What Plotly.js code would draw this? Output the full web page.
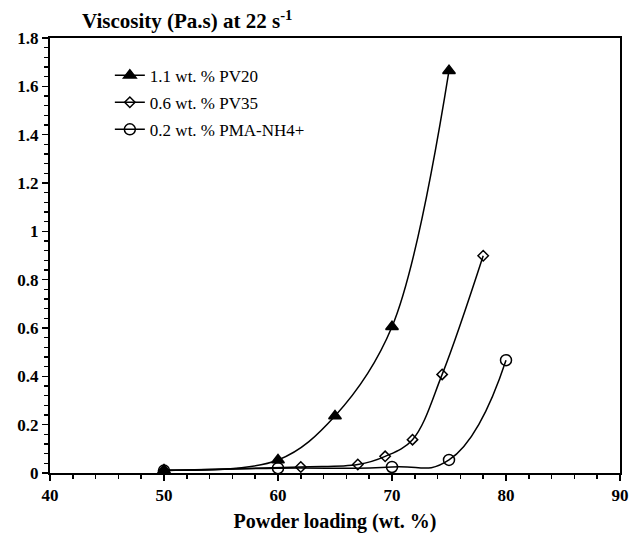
<!DOCTYPE html>
<html>
<head>
<meta charset="utf-8">
<script src="https://cdn.plot.ly/plotly-3.0.1.min.js"></script>
<style>html,body{margin:0;padding:0;background:#fff;}</style>
</head>
<body>
<div id="chart" style="width:633px;height:535px;"></div>
<script>
// Data
var seriesNames = ["1.1 wt. % PV20", "0.6 wt. % PV35", "0.2 wt. % PMA-NH4+"];
var pv20X = [50, 60, 65, 70, 75];
var pv20Y = [0.012, 0.054, 0.236, 0.605, 1.665];
var pv35X = [50, 62, 67, 69.4, 71.8, 74.4, 78];
var pv35Y = [0.01, 0.025, 0.035, 0.069, 0.138, 0.408, 0.899];
var pmaX = [50, 60, 70, 75, 80];
var pmaY = [0.01, 0.02, 0.025, 0.054, 0.467];

var xTickVals = [40, 50, 60, 70, 80, 90];
var xTickText = ["40", "50", "60", "70", "80", "90"];
var yTickVals = [0, 0.2, 0.4, 0.6, 0.8, 1, 1.2, 1.4, 1.6, 1.8];
var yTickText = ["0", "0.2", "0.4", "0.6", "0.8", "1", "1.2", "1.4", "1.6", "1.8"];

var serif = "Liberation Serif";

function trace(x, y, name, symbol, size, group, rank, smooth) {
  return {
    x: x, y: y, name: name, type: "scatter", mode: "lines+markers",
    line: {color: "#000", width: 1.5, shape: "spline", smoothing: smooth},
    marker: {symbol: symbol, size: size, color: "#000", line: {color: "#000", width: 1.5}},
    legendgroup: group, legendrank: rank
  };
}

var data = [
  trace(pmaX, pmaY, seriesNames[2], "circle-open", 11, "c", 3, 1.3),
  trace(pv35X, pv35Y, seriesNames[1], "diamond-open", 8, "b", 2, 1),
  trace(pv20X, pv20Y, seriesNames[0], "triangle-up", 11, "a", 1, 1)
];

function bold(arr) { return arr.map(function (s) { return "<b>" + s + "</b>"; }); }

var layout = {
  width: 633, height: 535,
  margin: {l: 50, r: 13, t: 38, b: 62},
  paper_bgcolor: "#fff", plot_bgcolor: "#fff",
  showlegend: true,
  legend: {x: 0.105, y: 0.955, xanchor: "left", yanchor: "top", traceorder: "grouped",
           tracegroupgap: 2, font: {family: serif, size: 17, color: "#000"}, bgcolor: "rgba(0,0,0,0)"},
  title: {text: "<b>Viscosity (Pa.s) at 22 s<sup>-1</sup></b>", x: 82/633, xref: "container", xanchor: "left",
          y: 1 - 21/535, yref: "container", yanchor: "middle",
          font: {family: serif, size: 21, color: "#000"}},
  xaxis: {range: [40, 90], tickmode: "array", tickvals: xTickVals, ticktext: bold(xTickText),
          ticks: "outside", ticklen: 6, tickwidth: 1.5, tickcolor: "#000",
          showgrid: false, zeroline: false, showline: true, linecolor: "#000", linewidth: 2, mirror: true,
          minor: {dtick: 2, tick0: 40, ticks: "outside", ticklen: 4, tickwidth: 1.5, tickcolor: "#000", showgrid: false},
          tickfont: {family: serif, size: 17, color: "#000"},
          title: {text: "<b>Powder loading (wt. %)</b>", font: {family: serif, size: 20, color: "#000"}, standoff: 10}},
  yaxis: {range: [0, 1.8], tickmode: "array", tickvals: yTickVals, ticktext: bold(yTickText),
          ticks: "outside", ticklen: 6, tickwidth: 1.5, tickcolor: "#000",
          showgrid: false, zeroline: false, showline: true, linecolor: "#000", linewidth: 2, mirror: true,
          minor: {dtick: 0.04, tick0: 0, ticks: "outside", ticklen: 4, tickwidth: 1.5, tickcolor: "#000", showgrid: false},
          tickfont: {family: serif, size: 17, color: "#000"}}
};

Plotly.newPlot("chart", data, layout, {displayModeBar: false, staticPlot: true});
</script>
</body>
</html>
